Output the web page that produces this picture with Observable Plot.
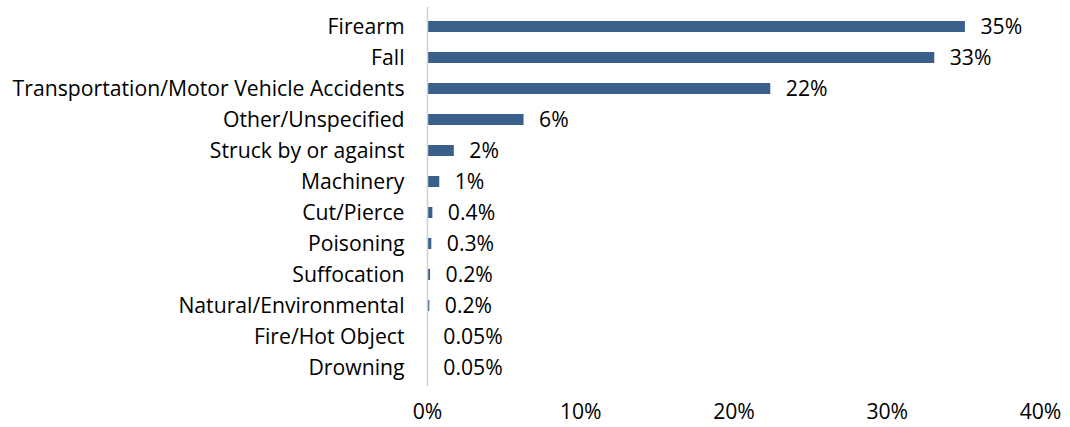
<!DOCTYPE html>
<html>
<head>
<meta charset="utf-8">
<script src="https://cdn.jsdelivr.net/npm/d3@7"></script>
<script src="https://cdn.jsdelivr.net/npm/@observablehq/plot@0.6"></script>
<style>
  html, body { margin: 0; padding: 0; background: #fff; }
  svg { display: block; }
</style>
</head>
<body>
<div id="chart"></div>
<script>
const categories = [
  "Firearm", "Fall", "Transportation/Motor Vehicle Accidents", "Other/Unspecified",
  "Struck by or against", "Machinery", "Cut/Pierce", "Poisoning", "Suffocation",
  "Natural/Environmental", "Fire/Hot Object", "Drowning"
];
const values = [35.1, 33.1, 22.4, 6.3, 1.75, 0.8, 0.35, 0.28, 0.2, 0.15, 0.05, 0.05];
const valueLabels = ["35%", "33%", "22%", "6%", "2%", "1%", "0.4%", "0.3%", "0.2%", "0.2%", "0.05%", "0.05%"];
const xTicks = [0, 10, 20, 30, 40];

const data = categories.map((c, i) => ({cat: c, v: values[i], label: valueLabels[i]}));

const chart = Plot.plot({
  width: 1070,
  height: 427,
  marginLeft: 427,
  marginRight: 30,
  marginTop: 7,
  marginBottom: 41,
  style: {fontFamily: "'Open Sans', sans-serif", fontSize: "21.2px", color: "#000", background: "#fff"},
  x: {domain: [0, 40], ticks: xTicks, tickFormat: d => d + "%", tickSize: 0, tickPadding: 17, label: null},
  y: {domain: categories, paddingInner: 0.65, paddingOuter: 0.325, tickSize: 0, tickPadding: 23, label: null},
  marks: [
    Plot.barX(data, {y: "cat", x: "v", fill: "#3a5f8b"}),
    Plot.ruleX([0], {stroke: "#d0d0d0", strokeWidth: 1.5}),
    Plot.text(data, {y: "cat", x: "v", text: "label", textAnchor: "start", dx: 15, fill: "#000", fontSize: 21.2})
  ]
});
document.getElementById("chart").appendChild(chart);
</script>
</body>
</html>
